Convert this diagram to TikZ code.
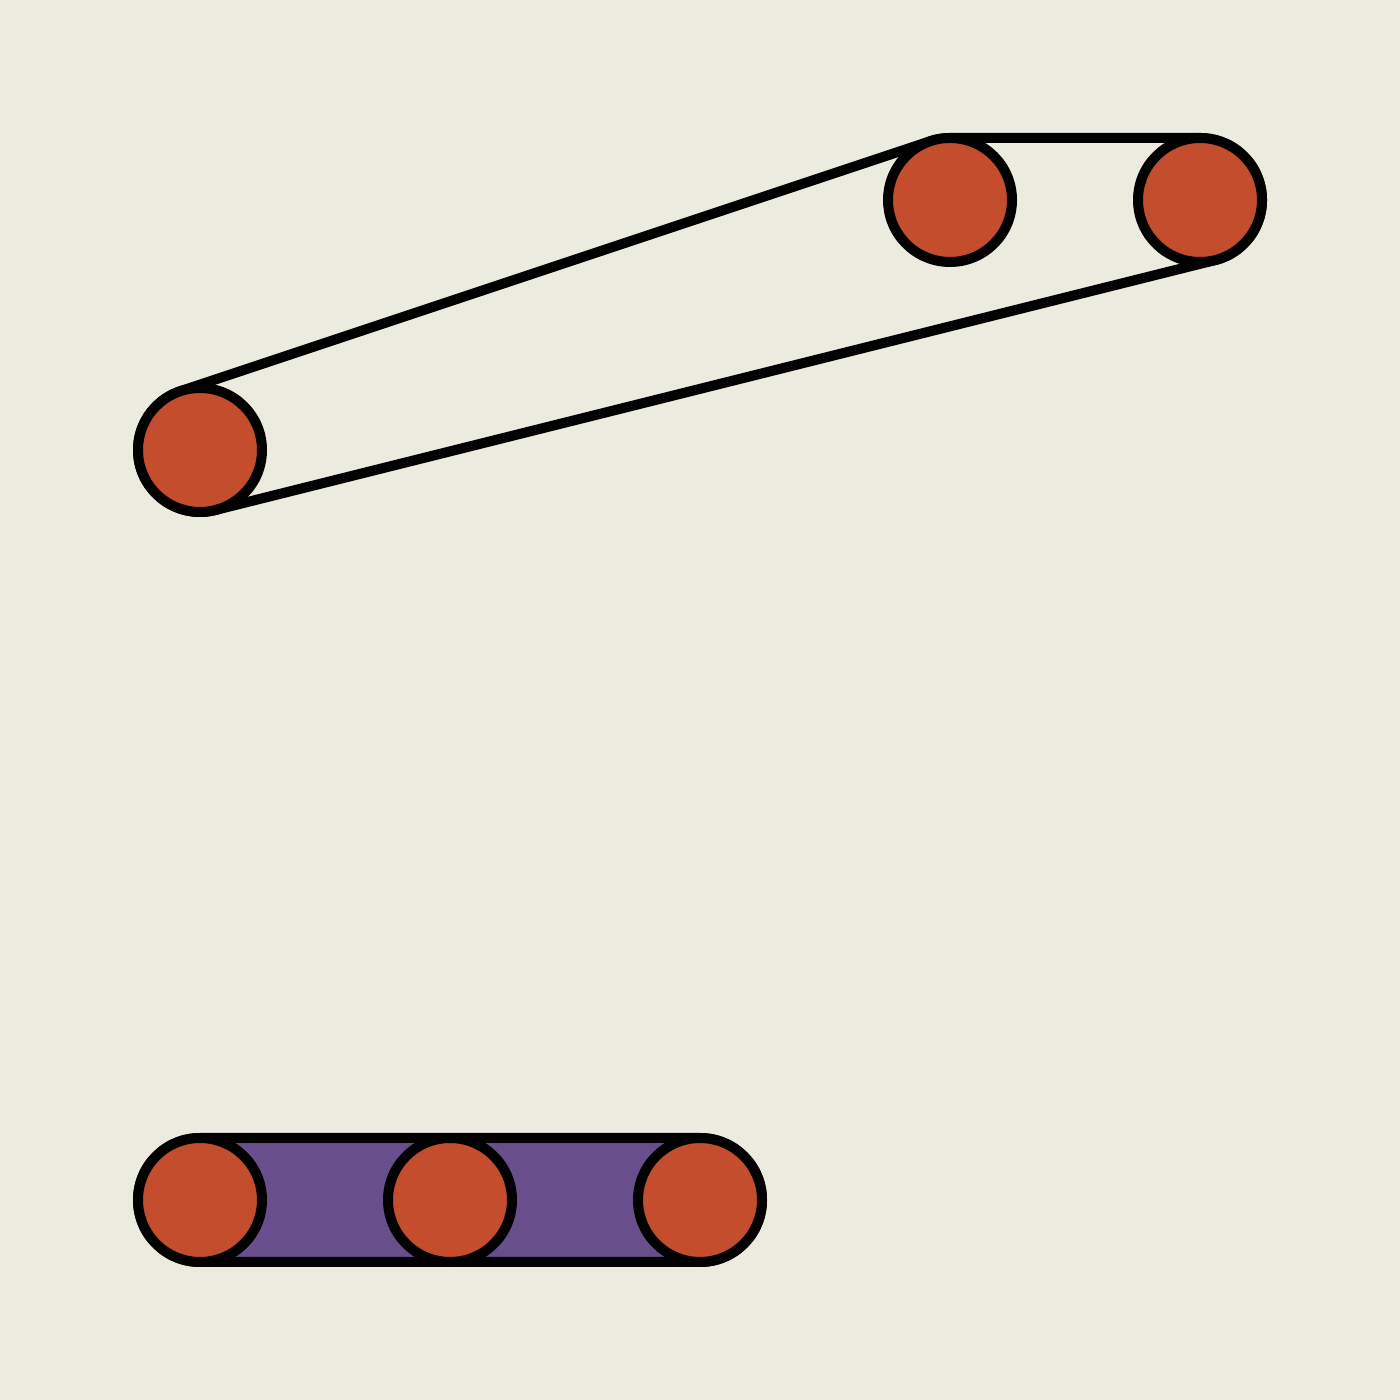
\documentclass[tikz,border=0pt]{standalone}
\usetikzlibrary{calc}
\definecolor{bgc}{HTML}{EBEBDF}
\definecolor{dotred}{HTML}{C44D2E}
\definecolor{hullpurple}{HTML}{684E8A}
\tikzset{
  dot/.style={circle, draw=black, fill=dotred, line width=0.1cm, minimum size=1.24cm, inner sep=0pt},
  hull/.style={draw=black, line width=0.1cm, line join=round}
}
\begin{document}
\begin{tikzpicture}
\useasboundingbox (0,0) rectangle (14,14);
\fill[bgc] (0,0) rectangle (14,14);
% centres
\coordinate (A) at (2,9.5);
\coordinate (B) at (9.5,12);
\coordinate (C) at (12,12);
\coordinate (D) at (2,2);
\coordinate (E) at (4.5,2);
\coordinate (F) at (7,2);
% top hull
\draw[hull]
  ($(A)+(-75.96:0.62)$) -- ($(C)+(-75.96:0.62)$)
  arc[start angle=-75.96, end angle=90, radius=0.62]
  -- ($(B)+(90:0.62)$)
  arc[start angle=90, end angle=108.43, radius=0.62]
  -- ($(A)+(108.43:0.62)$)
  arc[start angle=108.43, end angle=284.04, radius=0.62] -- cycle;
% bottom hull
\draw[hull, fill=hullpurple]
  ($(D)+(0,-0.62)$) -- ($(F)+(0,-0.62)$)
  arc[start angle=-90, end angle=90, radius=0.62]
  -- ($(D)+(0,0.62)$)
  arc[start angle=90, end angle=270, radius=0.62] -- cycle;
% dots
\node[dot] (a) at (A) {};
\node[dot] (b) at (B) {};
\node[dot] (c) at (C) {};
\node[dot] (d) at (D) {};
\node[dot] (e) at (E) {};
\node[dot] (f) at (F) {};
\end{tikzpicture}
\end{document}
